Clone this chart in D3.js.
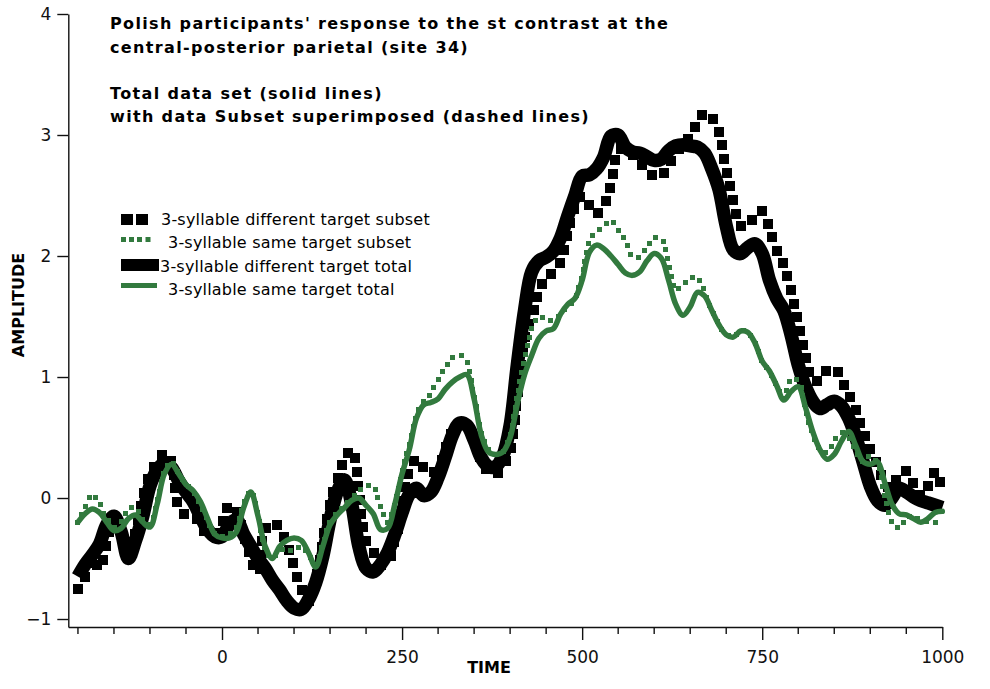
<!DOCTYPE html>
<html>
<head>
<meta charset="utf-8">
<script src="https://cdn.jsdelivr.net/npm/d3@7"></script>
<style>
  html, body { margin: 0; padding: 0; background: #fff; }
  svg { display: block; }
</style>
</head>
<body>
<svg id="chart" width="990" height="689"></svg>
<script>
// Sample times (ms), one every 10 ms
const timeMs = [
  -200,-190,-180,-170,-160,-150,-140,-130,-120,-110,
  -100,-90,-80,-70,-60,-50,-40,-30,-20,-10,
  0,10,20,30,40,50,60,70,80,90,
  100,110,120,130,140,150,160,170,180,190,
  200,210,220,230,240,250,260,270,280,290,
  300,310,320,330,340,350,360,370,380,390,
  400,410,420,430,440,450,460,470,480,490,
  500,510,520,530,540,550,560,570,580,590,
  600,610,620,630,640,650,660,670,680,690,
  700,710,720,730,740,750,760,770,780,790,
  800,810,820,830,840,850,860,870,880,890,
  900,910,920,930,940,950,960,970,980,990,
  1000
];

// 3-syllable different target, total data set
const diffTotal = [
  -0.65,-0.55,-0.47,-0.38,-0.22,-0.15,-0.28,-0.5,-0.35,-0.15,
  0.1,0.23,0.29,0.25,0.14,0.05,-0.03,-0.15,-0.26,-0.32,
  -0.32,-0.22,-0.18,-0.3,-0.4,-0.5,-0.58,-0.68,-0.76,-0.85,
  -0.91,-0.92,-0.84,-0.7,-0.48,-0.18,0.05,0.15,-0.05,-0.4,
  -0.58,-0.61,-0.55,-0.45,-0.3,-0.12,0.03,0.08,0.02,0.05,
  0.17,0.34,0.52,0.62,0.6,0.48,0.33,0.26,0.26,0.35,
  0.6,1.1,1.55,1.87,1.96,1.99,2.04,2.15,2.33,2.5,
  2.66,2.67,2.72,2.82,2.99,3.0,2.9,2.86,2.85,2.82,
  2.79,2.8,2.87,2.91,2.92,2.91,2.9,2.85,2.72,2.55,
  2.25,2.05,2.02,2.07,2.1,2.02,1.8,1.65,1.55,1.35,
  1.1,0.92,0.8,0.74,0.77,0.8,0.76,0.66,0.5,0.3,
  0.1,-0.02,-0.06,0.0,0.08,0.05,0.01,-0.02,-0.04,-0.06,
  -0.08
];

// 3-syllable different target, subset
const diffSubset = [
  -0.75,-0.65,-0.5,-0.58,-0.35,-0.15,-0.28,-0.48,-0.28,0.0,
  0.2,0.3,0.37,0.3,-0.08,-0.14,-0.15,-0.22,-0.3,-0.3,
  -0.2,-0.06,-0.1,-0.3,-0.5,-0.62,-0.25,-0.2,-0.25,-0.38,
  -0.58,-0.75,-0.85,-0.68,-0.35,-0.05,0.15,0.32,0.4,0.05,
  -0.35,-0.45,-0.55,-0.52,-0.35,-0.05,0.22,0.32,0.25,0.2,
  0.25,0.4,0.55,0.62,0.6,0.48,0.32,0.22,0.2,0.25,
  0.4,0.85,1.3,1.5,1.7,1.83,1.86,1.95,2.2,2.4,
  2.5,2.42,2.35,2.42,2.6,2.88,2.88,2.84,2.77,2.72,
  2.66,2.66,2.75,2.85,2.93,2.98,3.1,3.18,3.15,3.02,
  2.72,2.45,2.25,2.25,2.33,2.37,2.22,2.05,1.92,1.72,
  1.45,1.18,0.97,0.98,1.06,1.07,0.98,0.85,0.72,0.55,
  0.4,0.28,0.12,0.08,0.2,0.22,0.12,0.02,0.1,0.22,
  0.05
];

// 3-syllable same target, total data set
const sameTotal = [
  -0.2,-0.13,-0.09,-0.12,-0.2,-0.27,-0.25,-0.17,-0.14,-0.2,
  -0.24,-0.05,0.2,0.28,0.2,0.11,0.06,-0.03,-0.17,-0.3,
  -0.33,-0.33,-0.28,-0.08,0.05,-0.15,-0.4,-0.5,-0.4,-0.35,
  -0.33,-0.35,-0.45,-0.57,-0.4,-0.22,-0.14,-0.08,-0.02,0.0,
  -0.06,-0.13,-0.26,-0.25,-0.05,0.2,0.4,0.66,0.77,0.79,
  0.82,0.9,0.96,1.0,1.02,0.82,0.52,0.38,0.36,0.38,
  0.5,0.78,1.02,1.18,1.32,1.38,1.4,1.52,1.6,1.65,
  1.8,2.03,2.09,2.06,2.0,1.93,1.86,1.84,1.87,1.96,
  2.02,1.98,1.8,1.6,1.51,1.58,1.7,1.67,1.55,1.43,
  1.35,1.33,1.38,1.37,1.28,1.13,1.05,0.93,0.81,0.88,
  0.92,0.75,0.55,0.4,0.32,0.36,0.47,0.55,0.43,0.3,
  0.28,0.3,0.13,-0.05,-0.13,-0.14,-0.17,-0.2,-0.17,-0.12,
  -0.11
];

// 3-syllable same target, subset
const sameSubset = [
  -0.2,-0.08,0.03,-0.05,-0.17,-0.24,-0.2,-0.09,-0.08,-0.18,
  -0.22,-0.03,0.22,0.3,0.2,0.12,0.05,-0.05,-0.18,-0.3,
  -0.32,-0.3,-0.25,-0.05,0.06,-0.15,-0.42,-0.5,-0.44,-0.42,
  -0.44,-0.4,-0.47,-0.55,-0.38,-0.2,-0.12,-0.06,0.0,0.05,
  0.1,0.1,-0.08,-0.2,-0.05,0.22,0.45,0.68,0.8,0.87,
  0.98,1.08,1.16,1.18,1.12,0.85,0.55,0.4,0.36,0.38,
  0.52,0.85,1.15,1.4,1.5,1.48,1.47,1.52,1.58,1.65,
  1.85,2.12,2.2,2.25,2.29,2.22,2.12,2.0,1.99,2.08,
  2.15,2.14,1.95,1.72,1.76,1.82,1.82,1.7,1.55,1.43,
  1.35,1.33,1.38,1.37,1.28,1.13,1.05,0.93,0.82,0.98,
  0.97,0.72,0.52,0.4,0.38,0.48,0.54,0.5,0.38,0.3,
  0.35,0.28,0.0,-0.2,-0.25,-0.17,-0.15,-0.18,-0.2,-0.2,
  -0.17
];

const xMajorTicks = [0, 250, 500, 750, 1000];
const xMinorTicks = [-200, -150, -100, -50, 50, 100, 150, 200, 300, 350, 400, 450,
                     550, 600, 650, 700, 800, 850, 900, 950];
const yTicks = [-1, 0, 1, 2, 3, 4];

const titleLines = [
  "Polish participants' response to the st contrast at the",
  "central-posterior parietal (site 34)",
  "",
  "Total data set (solid lines)",
  "with data Subset superimposed (dashed lines)"
];

const legendLabels = [
  "3-syllable different target subset",
  "3-syllable same target subset",
  "3-syllable different target total",
  "3-syllable same target total"
];

const GREEN = "#327a3e";
const BLACK = "#000000";

const svg = d3.select("#chart");

const x = d3.scaleLinear().domain([-213.4, 1000]).range([68.3, 942.3]);
const y = d3.scaleLinear().domain([-1.066, 4]).range([627, 14]);

const line = d3.line()
  .x((d, i) => x(timeMs[i]))
  .y(d => y(d))
  .curve(d3.curveCatmullRom.alpha(0.5));

const TICK_FONT = "'DejaVu Sans', Verdana, sans-serif";

// ---- axes ----
const xAxisG = svg.append("g").attr("transform", "translate(0,627)");
xAxisG.call(d3.axisBottom(x).tickValues(xMajorTicks).tickSize(13).tickSizeOuter(0)
  .tickFormat(d3.format("d")));
const minor = svg.append("g").attr("transform", "translate(0,627)");
minor.selectAll("line").data(xMinorTicks).join("line")
  .attr("x1", d => x(d)).attr("x2", d => x(d))
  .attr("y1", 0).attr("y2", 7)
  .attr("stroke", "#111").attr("stroke-width", 1.4);
xAxisG.select(".domain").attr("stroke", "#111").attr("stroke-width", 1.4);
xAxisG.selectAll(".tick line").attr("stroke", "#111").attr("stroke-width", 1.4);
xAxisG.selectAll(".tick text")
  .attr("y", 24)
  .attr("dy", "0.71em")
  .style("font-family", TICK_FONT)
  .style("font-size", "17px")
  .attr("fill", "#111");

const yAxisG = svg.append("g").attr("transform", "translate(68.3,0)");
yAxisG.call(d3.axisLeft(y).tickValues(yTicks).tickSize(11).tickSizeOuter(0)
  .tickFormat(d3.format("d")));
yAxisG.select(".domain").attr("stroke", "#111").attr("stroke-width", 1.4);
yAxisG.selectAll(".tick line").attr("stroke", "#111").attr("stroke-width", 1.4);
yAxisG.selectAll(".tick text")
  .attr("x", -17)
  .style("font-family", TICK_FONT)
  .style("font-size", "17px")
  .attr("fill", "#111");

// axis titles
svg.append("text")
  .attr("x", 489).attr("y", 673)
  .attr("text-anchor", "middle")
  .style("font-family", TICK_FONT)
  .style("font-weight", "bold")
  .style("font-size", "16px")
  .text("TIME");

svg.append("text")
  .attr("transform", "translate(24,305) rotate(-90)")
  .attr("text-anchor", "middle")
  .style("font-family", TICK_FONT)
  .style("font-weight", "bold")
  .style("font-size", "16px")
  .text("AMPLITUDE");

// ---- data ----
const plot = svg.append("g");

// thick solid line: different target total
plot.append("path")
  .attr("d", line(diffTotal))
  .attr("fill", "none")
  .attr("stroke", BLACK)
  .attr("stroke-width", 13.5)
  .attr("stroke-linejoin", "round")
  .attr("stroke-linecap", "butt");

// dashed series are drawn as square marks spaced evenly along the curve
function squareDashes(values, size, spacing, color) {
  const guide = plot.append("path")
    .attr("d", line(values))
    .attr("fill", "none")
    .attr("stroke", "none");
  const node = guide.node();
  const len = node.getTotalLength();
  const pts = d3.range(0, len + 0.01, spacing).map(s => node.getPointAtLength(s));
  guide.remove();
  plot.append("g").selectAll("rect").data(pts).join("rect")
    .attr("x", p => Math.round(p.x - size / 2))
    .attr("y", p => Math.round(p.y - size / 2))
    .attr("width", size)
    .attr("height", size)
    .attr("fill", color);
}

squareDashes(diffSubset, 10, 14, BLACK);
squareDashes(sameSubset, 5, 9, GREEN);

// solid line: same target total
plot.append("path")
  .attr("d", line(sameTotal))
  .attr("fill", "none")
  .attr("stroke", GREEN)
  .attr("stroke-width", 5.5)
  .attr("stroke-linejoin", "round")
  .attr("stroke-linecap", "round");

// ---- title block ----
const titleBaselines = [29, 53, 76, 99, 122];
svg.append("g").selectAll("text").data(titleLines).join("text")
  .attr("x", 110)
  .attr("y", (d, i) => titleBaselines[i])
  .style("font-family", TICK_FONT)
  .style("font-weight", "bold")
  .style("font-size", "16px")
  .style("letter-spacing", "1.35px")
  .attr("fill", "#000")
  .text(d => d);

// ---- legend ----
const legend = svg.append("g");
const legendText = [
  { x: 161, y: 225 },
  { x: 168, y: 248 },
  { x: 160, y: 272 },
  { x: 168, y: 295 }
];
legend.selectAll("text").data(legendLabels).join("text")
  .attr("x", (d, i) => legendText[i].x)
  .attr("y", (d, i) => legendText[i].y)
  .style("font-family", TICK_FONT)
  .style("font-size", "16px")
  .style("letter-spacing", "0.2px")
  .attr("fill", "#000")
  .text(d => d);

// symbol: big black squares
legend.selectAll("rect.bsq").data([121, 136]).join("rect")
  .attr("class", "bsq")
  .attr("x", d => d).attr("y", 214).attr("width", 12).attr("height", 11)
  .attr("fill", BLACK);
// symbol: small green squares
legend.selectAll("rect.gsq").data([121, 129, 137, 145.5]).join("rect")
  .attr("class", "gsq")
  .attr("x", d => d).attr("y", 237).attr("width", 5).attr("height", 5)
  .attr("fill", GREEN);
// symbol: thick black bar
legend.append("rect")
  .attr("x", 121).attr("y", 259).attr("width", 38).attr("height", 12)
  .attr("fill", BLACK);
// symbol: green bar
legend.append("rect")
  .attr("x", 121).attr("y", 283).attr("width", 36).attr("height", 5)
  .attr("fill", GREEN);
</script>
</body>
</html>
